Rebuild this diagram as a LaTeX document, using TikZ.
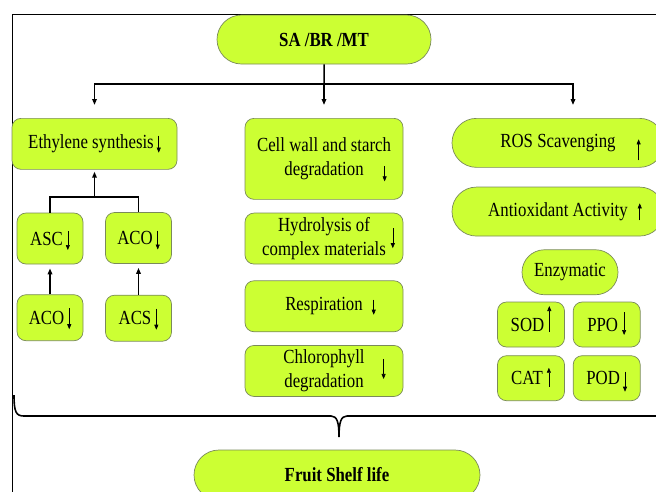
\documentclass[tikz,border=0pt]{standalone}
\usepackage{fontspec}
\setmainfont{Liberation Serif}[FakeStretch=0.84]
\usetikzlibrary{arrows.meta, positioning, shapes.misc}
\definecolor{limefill}{HTML}{CCFF33}
\definecolor{boxedge}{HTML}{7A8A5A}
% small arrows beside the labels: top and bottom end, from the baseline
\newcommand{\dn}[2]{\smash{\tikz[baseline=0pt]\draw[line width=0.6pt,
  -{Triangle[length=5pt, width=4pt]}] (0pt,#1) -- (0pt,#2);}}
\newcommand{\up}[2]{\smash{\tikz[baseline=0pt]\draw[line width=0.6pt,
  -{Triangle[length=5pt, width=4pt]}] (0pt,#2) -- (0pt,#1);}}

\begin{document}
\begin{tikzpicture}[x=1pt, y=-1pt, >={Triangle[length=6pt, width=4.5pt]},
    box/.style={draw=boxedge, fill=limefill, line width=0.7pt, rounded corners=9pt,
      align=center, inner sep=0pt, font=\fontsize{20}{23.5}\selectfont},
    pill/.style={box, sharp corners, rounded rectangle},
    wide/.style={box, minimum width=158pt, minimum height=51pt},
    small/.style={box, minimum width=66pt, minimum height=51pt},
    enzbox/.style={box, minimum width=67pt, minimum height=45pt},
    link/.style={line width=1.5pt}]
  \useasboundingbox (0,0) rectangle (656,491);
  \clip (0,0) rectangle (656,491);

  % frame
  \draw[line width=1pt] (12,520) |- (700,14);

  % head
  \node[pill, minimum width=214pt, minimum height=49pt,
    font=\fontsize{20}{23.5}\selectfont\bfseries] (top) at (324,39.5) {SA /BR /MT};

  % three columns
  \node[box, anchor=north, minimum width=165pt, minimum height=51pt] (eth) at (94.5,118)
    {Ethylene synthesis\hspace{3pt}\dn{13pt}{-4pt}};
  \node[wide, anchor=north, minimum height=81pt] (cell) at (324,118)
    {Cell wall and starch\\degradation\rlap{\hspace{19pt}\dn{9pt}{-6pt}}};
  \node[pill, anchor=north, minimum width=212pt, minimum height=49pt] (ros) at (558,118)
    {ROS Scavenging\rlap{\hspace{21pt}\up{8pt}{-13pt}}};

  % ethylene branch
  \node[small] (asc) at (50,238.5) {ASC\hspace{3pt}\dn{14pt}{-5pt}};
  \node[small] (aco1) at (138.5,238) {ACO\hspace{3pt}\dn{14pt}{-5pt}};
  \node[small, minimum height=46pt, below=30pt of asc] (aco2) {ACO\hspace{3pt}\dn{16pt}{-5pt}};
  \node[small, minimum height=46pt, below=31pt of aco1] (acs) {ACS\hspace{3pt}\dn{16pt}{-5pt}};

  % middle stack
  \node[wide, below=13pt of cell] (hyd)
    {Hydrolysis of\\complex materials\rlap{\hspace{5pt}\dn{27pt}{7pt}}};
  \node[wide, below=16pt of hyd] (resp) {Respiration\rlap{\hspace{9pt}\dn{11pt}{-4pt}}};
  \node[wide, below=13pt of resp] (chl)
    {Chlorophyll\rlap{\hspace{17pt}\dn{5pt}{-15pt}}\\degradation};

  % antioxidant branch
  \node[pill, minimum width=212pt, minimum height=49pt, below=19pt of ros] (anti)
    {Antioxidant Activity\rlap{\hspace{10pt}\up{13pt}{-4pt}}};
  \node[pill, minimum width=96pt, minimum height=45pt, below=13pt of anti, xshift=12pt] (enz)
    {Enzymatic};
  \node[enzbox] (sod) at (531,324.5) {SOD\hspace{3pt}\up{25pt}{-1pt}};
  \node[enzbox, right=8pt of sod] (ppo) {PPO\hspace{4pt}\dn{19pt}{-4pt}};
  \node[enzbox, below=8pt of sod] (cat) {CAT\hspace{4pt}\up{17pt}{-2pt}};
  \node[enzbox, right=8pt of cat] (pod) {POD\hspace{3pt}\dn{13pt}{-7pt}};

  % outcome
  \node[pill, minimum width=286pt, minimum height=50pt,
    font=\fontsize{20}{23.5}\selectfont\bfseries] (fruit) at (337,475) {Fruit Shelf life};

  % connectors
  \coordinate (split) at (324,84);
  \draw[link] (top) -- (split);
  \draw[link, ->, shorten >=13pt] (split) -| (eth.north);
  \draw[link, ->, shorten >=13pt] (split) -- (cell.north);
  \draw[link, ->, shorten >=13pt] (split) -| ([xshift=15pt]ros.north);

  \coordinate (join) at (94.5,197);
  \draw[link] (asc.north) |- (join) -| (aco1.north);
  \draw[link, ->, shorten >=2pt] (join) -- (eth.south);
  \draw[link, ->, shorten >=4pt] (aco2) -- (asc);
  \draw[link, ->, shorten >=4pt] (acs.north) -- (acs.north |- aco1.south);

  % brace
  \draw[line width=1.6pt] (14,395) .. controls (14,412) and (16,416) .. (24,416)
    -- (331,416) .. controls (337,416) and (339,422) .. (339,437)
    .. controls (339,422) and (341,416) .. (347,416) -- (700,416);
\end{tikzpicture}
\end{document}
